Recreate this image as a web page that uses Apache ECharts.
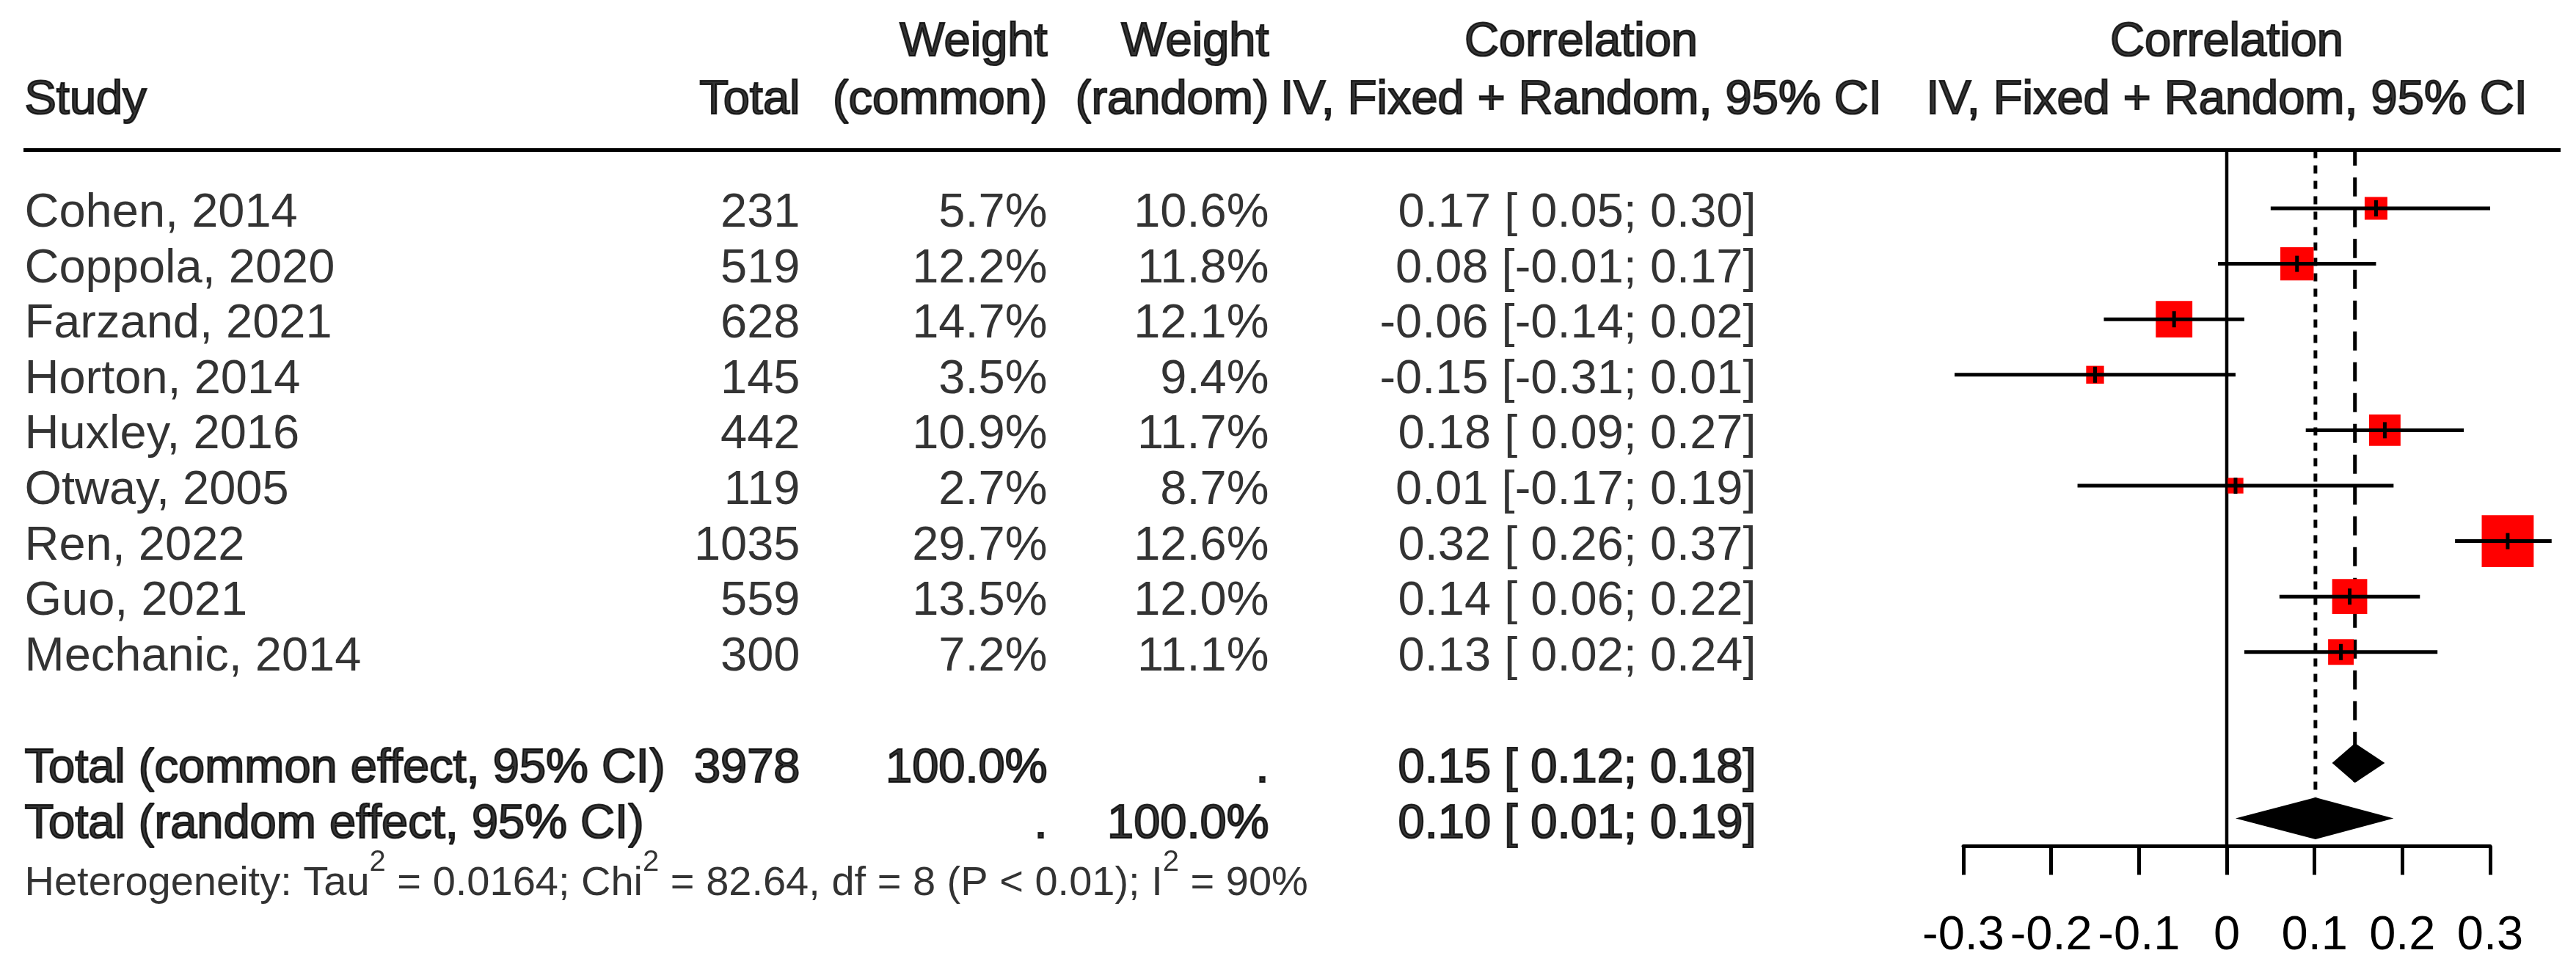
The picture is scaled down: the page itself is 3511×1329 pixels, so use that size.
<!DOCTYPE html>
<html>
<head>
<meta charset="utf-8">
<script src="https://cdn.jsdelivr.net/npm/echarts@6/dist/echarts.min.js"></script>
<style>
html,body{margin:0;padding:0;background:#fff;}
#chart{width:3511px;height:1329px;}
</style>
</head>
<body>
<div id="chart"></div>
<script>
// ---------------- data ----------------
const studies = ['Cohen, 2014','Coppola, 2020','Farzand, 2021','Horton, 2014','Huxley, 2016','Otway, 2005','Ren, 2022','Guo, 2021','Mechanic, 2014'];
const totals = [231, 519, 628, 145, 442, 119, 1035, 559, 300];
const weightCommon = [5.7, 12.2, 14.7, 3.5, 10.9, 2.7, 29.7, 13.5, 7.2];
const weightRandom = [10.6, 11.8, 12.1, 9.4, 11.7, 8.7, 12.6, 12.0, 11.1];
const corr = [0.17, 0.08, -0.06, -0.15, 0.18, 0.01, 0.32, 0.14, 0.13];
const ciLow = [0.05, -0.01, -0.14, -0.31, 0.09, -0.17, 0.26, 0.06, 0.02];
const ciHigh = [0.30, 0.17, 0.02, 0.01, 0.27, 0.19, 0.37, 0.22, 0.24];

const pooledLabels = ['Total (common effect, 95% CI)', 'Total (random effect, 95% CI)'];
const pooledTotal = ['3978', ''];
const pooledWeightCommon = ['100.0%', '.'];
const pooledWeightRandom = ['.', '100.0%'];
const pooledEst = [0.146, 0.101];
const pooledLow = [0.12, 0.01];
const pooledHigh = [0.18, 0.19];

const headerRow1 = ['', '', 'Weight', 'Weight', 'Correlation', 'Correlation'];
const headerRow2 = ['Study', 'Total', '(common)', '(random)', 'IV, Fixed + Random, 95% CI', 'IV, Fixed + Random, 95% CI'];
const heterogeneity = ['Heterogeneity: Tau', '2', ' = 0.0164; Chi', '2', ' = 82.64, df = 8 (P < 0.01); I', '2', ' = 90%'];
const xTicks = [-0.3, -0.2, -0.1, 0, 0.1, 0.2, 0.3];

// ---------------- layout / style ----------------
const FONT = 'Liberation Sans, Arial, sans-serif';
const FS = 65;
const COL = { study: 33, total: 1091, wCommon: 1428, wRandom: 1730, ci: 2394, ciHead: 2155, plotHead: 0 };
const studyRows = studies.map((_, i) => i);
const pooledRows = [10, 11];
const hetRow = 12;
const headRow1 = -3, headRow2 = -2, ruleRow = -1.05, axisRow = 11.5;
const BOX_K = 13;
const LW = 5;

function fmt2(v) { return v.toFixed(2); }
function ciText(e, lo, hi) {
  const l = lo < 0 ? fmt2(lo) : ' ' + fmt2(lo);
  return fmt2(e) + ' [' + l + '; ' + fmt2(hi) + ']';
}

function textSeries(points, align, bold, offsetY, gridIdx, extraLabel) {
  const pos = align === 'left' ? 'right' : (align === 'right' ? 'left' : 'inside');
  const label = Object.assign({
    show: true, position: pos, distance: 0, offset: [0, offsetY],
    formatter: p => p.data[2], color: '#000', fontSize: FS, fontFamily: FONT,
    fontWeight: 'normal',
    textBorderColor: bold ? '#000' : 'transparent', textBorderWidth: bold ? 2.2 : 0
  }, extraLabel || {});
  return {
    type: 'scatter', xAxisIndex: gridIdx, yAxisIndex: gridIdx, symbolSize: 1, silent: true,
    itemStyle: { color: 'rgba(0,0,0,0)' }, data: points, label: label, clip: false, z: 5
  };
}

const series = [];

// header texts
series.push(textSeries([[COL.wCommon, headRow1, headerRow1[2]], [COL.wRandom, headRow1, headerRow1[3]]], 'right', true, 1, 0));
series.push(textSeries([[COL.ciHead, headRow1, headerRow1[4]]], 'center', true, 1, 0));
series.push(textSeries([[COL.plotHead, headRow1, headerRow1[5]]], 'center', true, 1, 1));
series.push(textSeries([[COL.study, headRow2, headerRow2[0]]], 'left', true, 4, 0));
series.push(textSeries([[COL.total, headRow2, headerRow2[1]], [COL.wCommon, headRow2, headerRow2[2]], [COL.wRandom, headRow2, headerRow2[3]]], 'right', true, 4, 0));
series.push(textSeries([[COL.ciHead, headRow2, headerRow2[4]]], 'center', true, 4, 0));
series.push(textSeries([[COL.plotHead, headRow2, headerRow2[5]]], 'center', true, 4, 1));

// study rows
series.push(textSeries(studies.map((s, i) => [COL.study, studyRows[i], s]), 'left', false, 7, 0));
series.push(textSeries(totals.map((v, i) => [COL.total, studyRows[i], String(v)]), 'right', false, 7, 0));
series.push(textSeries(weightCommon.map((v, i) => [COL.wCommon, studyRows[i], v.toFixed(1) + '%']), 'right', false, 7, 0));
series.push(textSeries(weightRandom.map((v, i) => [COL.wRandom, studyRows[i], v.toFixed(1) + '%']), 'right', false, 7, 0));
series.push(textSeries(corr.map((v, i) => [COL.ci, studyRows[i], ciText(v, ciLow[i], ciHigh[i])]), 'right', false, 7, 0));

// pooled rows
series.push(textSeries(pooledLabels.map((s, i) => [COL.study, pooledRows[i], s]), 'left', true, 8, 0));
series.push(textSeries(pooledTotal.map((s, i) => [COL.total, pooledRows[i], s]), 'right', true, 8, 0));
series.push(textSeries(pooledWeightCommon.map((s, i) => [COL.wCommon, pooledRows[i], s]), 'right', true, 8, 0));
series.push(textSeries(pooledWeightRandom.map((s, i) => [COL.wRandom, pooledRows[i], s]), 'right', true, 8, 0));
series.push(textSeries(pooledEst.map((v, i) => [COL.ci, pooledRows[i], ciText(v, pooledLow[i], pooledHigh[i])]), 'right', true, 8, 0));

// heterogeneity (rich text with superscripts)
const hetRich = heterogeneity.map((t, i) => (i % 2 === 1 ? '{s|' + t + '}' : '{n|' + t + '}')).join('');
series.push(textSeries([[COL.study, hetRow, hetRich]], 'left', false, 13, 0, {
  rich: {
    n: { fontSize: 56, lineHeight: 96, fontFamily: FONT, color: '#000' },
    s: { fontSize: 40, lineHeight: 40, verticalAlign: 'top', fontFamily: FONT, color: '#000' }
  }
}));

// header rule
series.push({
  type: 'line', xAxisIndex: 0, yAxisIndex: 0, symbol: 'none', silent: true,
  data: [[32, ruleRow], [3490, ruleRow]], lineStyle: { color: '#000', width: 5 }, z: 2
});

// forest: null line
series.push({
  type: 'line', xAxisIndex: 1, yAxisIndex: 1, symbol: 'none', silent: true, clip: false,
  data: [[0, ruleRow], [0, axisRow]], lineStyle: { color: '#000', width: 4.5 }, z: 2
});
// random-effect dashed line
series.push({
  type: 'line', xAxisIndex: 1, yAxisIndex: 1, symbol: 'none', silent: true, clip: false,
  data: [[pooledEst[1], ruleRow], [pooledEst[1], pooledRows[1] - 0.38]],
  lineStyle: { color: '#000', width: 5, type: [11, 10] }, z: 2
});
// common-effect long-dashed line
series.push({
  type: 'line', xAxisIndex: 1, yAxisIndex: 1, symbol: 'none', silent: true, clip: false,
  data: [[pooledEst[0], pooledRows[0] + 0.34], [pooledEst[0], ruleRow]],
  lineStyle: { color: '#000', width: 5, type: [26, 16] }, z: 2
});

// forest: studies
series.push({
  type: 'custom', xAxisIndex: 1, yAxisIndex: 1, silent: true, clip: false, z: 4,
  encode: { x: [0, 1, 2], y: 3 },
  data: corr.map((v, i) => [v, ciLow[i], ciHigh[i], studyRows[i], weightCommon[i]]),
  renderItem: function (params, api) {
    const est = api.value(0), lo = api.value(1), hi = api.value(2), r = api.value(3), w = api.value(4);
    const pc = api.coord([est, r]), pl = api.coord([lo, r]), ph = api.coord([hi, r]);
    const side = BOX_K * Math.sqrt(w);
    return {
      type: 'group', children: [
        { type: 'rect', shape: { x: pc[0] - side / 2, y: pc[1] - side / 2, width: side, height: side }, style: { fill: '#ff0000' } },
        { type: 'line', shape: { x1: pl[0], y1: pl[1], x2: ph[0], y2: ph[1] }, style: { stroke: '#000', lineWidth: LW } },
        { type: 'line', shape: { x1: pc[0], y1: pc[1] - 11, x2: pc[0], y2: pc[1] + 11 }, style: { stroke: '#000', lineWidth: LW } }
      ]
    };
  }
});

// forest: pooled diamonds
const DIAMOND_H = [54, 57];
series.push({
  type: 'custom', xAxisIndex: 1, yAxisIndex: 1, silent: true, clip: false, z: 4,
  encode: { x: [0, 1, 2], y: 3 },
  data: pooledEst.map((v, i) => [v, pooledLow[i], pooledHigh[i], pooledRows[i]]),
  renderItem: function (params, api) {
    const est = api.value(0), lo = api.value(1), hi = api.value(2), r = api.value(3);
    const pc = api.coord([est, r]), pl = api.coord([lo, r]), ph = api.coord([hi, r]);
    const h = DIAMOND_H[params.dataIndex] / 2;
    return {
      type: 'polygon',
      shape: { points: [[pl[0], pl[1]], [pc[0], pc[1] - h], [ph[0], ph[1]], [pc[0], pc[1] + h]] },
      style: { fill: '#000' }
    };
  }
});

const ROW_PX = 75.6;
const ROW0_PX = 284;
const option = {
  animation: false,
  backgroundColor: '#fff',
  grid: [
    { left: 0, width: 3511, top: ROW0_PX + headRow1 * ROW_PX, height: (13 - headRow1) * ROW_PX },
    { left: 2676, width: 718, top: ROW0_PX + headRow1 * ROW_PX, height: (axisRow - headRow1) * ROW_PX }
  ],
  xAxis: [
    { gridIndex: 0, type: 'value', min: 0, max: 3511, show: false },
    {
      gridIndex: 1, type: 'value', min: xTicks[0], max: xTicks[xTicks.length - 1], interval: 0.1,
      axisLine: { show: true, onZero: false, lineStyle: { color: '#000', width: LW } },
      axisTick: { show: true, length: 39, lineStyle: { color: '#000', width: LW } },
      axisLabel: { show: true, color: '#000', fontSize: FS, fontFamily: FONT, margin: 90,
        formatter: v => { const t = xTicks.find(x => Math.abs(x - v) < 1e-9); return t === 0 ? '0' : String(t); } },
      splitLine: { show: false }
    }
  ],
  yAxis: [
    { gridIndex: 0, type: 'value', inverse: true, min: headRow1, max: 13, show: false },
    { gridIndex: 1, type: 'value', inverse: true, min: headRow1, max: axisRow, show: false }
  ],
  series: series
};

const chart = echarts.init(document.getElementById('chart'), null, { renderer: 'canvas' });
chart.setOption(option);
</script>
</body>
</html>
